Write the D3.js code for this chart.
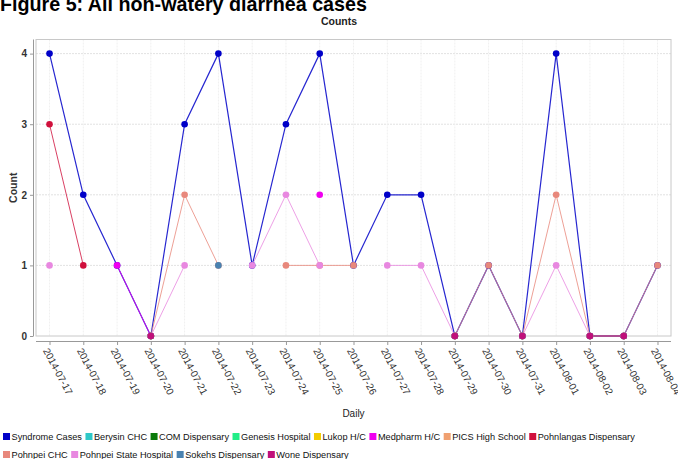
<!DOCTYPE html>
<html>
<head>
<meta charset="utf-8">
<script src="https://cdn.jsdelivr.net/npm/d3@7"></script>
<style>
  body { margin: 0; background: #fff; }
  svg { display: block; font-family: 'Liberation Sans', Arial, sans-serif; }
</style>
</head>
<body>
<svg id="chart" width="678" height="459"></svg>
<script>
const d3 = window.d3

const dates = ['2014-07-17', '2014-07-18', '2014-07-19', '2014-07-20', '2014-07-21', '2014-07-22',
  '2014-07-23', '2014-07-24', '2014-07-25', '2014-07-26', '2014-07-27', '2014-07-28', '2014-07-29',
  '2014-07-30', '2014-07-31', '2014-08-01', '2014-08-02', '2014-08-03', '2014-08-04']
const yTicks = [0, 1, 2, 3, 4]

const n = null
const syndromeCases = [4, 2, 1, 0, 3, 4, 1, 3, 4, 1, 2, 2, 0, 1, 0, 4, 0, 0, 1]
const berysin = [n, n, n, 0, n, n, n, n, n, n, n, n, 0, n, 0, n, 0, 0, n]
const com = [n, n, n, 0, n, n, n, n, n, n, n, n, 0, n, 0, n, 0, 0, n]
const genesis = [n, n, n, 0, n, n, n, n, n, n, n, n, 0, n, 0, n, 0, 0, n]
const lukop = [n, n, n, 0, n, n, n, n, n, n, n, n, 0, n, 0, n, 0, 0, n]
const medpharm = [n, n, 1, 0, n, n, n, n, 2, n, n, n, 0, n, 0, n, 0, 0, n]
const pics = [n, n, n, 0, n, n, n, n, n, n, n, n, 0, n, 0, n, 0, 0, n]
const pohnlangas = [3, 1, n, 0, n, n, n, n, n, n, n, n, 0, n, 0, n, 0, 0, n]
const pohnpeiChc = [n, n, n, 0, 2, 1, n, 1, 1, 1, n, n, 0, 1, 0, 2, 0, 0, 1]
const pohnpeiState = [1, n, n, 0, 1, n, 1, 2, 1, n, 1, 1, 0, n, 0, 1, 0, 0, n]
const sokehs = [n, n, n, 0, n, 1, n, n, n, n, n, n, 0, n, 0, n, 0, 0, n]
const wone = [n, n, n, 0, n, n, n, n, n, n, n, n, 0, n, 0, n, 0, 0, n]

const seriesNames = ['Syndrome Cases', 'Berysin CHC', 'COM Dispensary', 'Genesis Hospital', 'Lukop H/C',
  'Medpharm H/C', 'PICS High School', 'Pohnlangas Dispensary', 'Pohnpei CHC', 'Pohnpei State Hospital',
  'Sokehs Dispensary', 'Wone Dispensary']
const seriesValues = [syndromeCases, berysin, com, genesis, lukop, medpharm, pics, pohnlangas,
  pohnpeiChc, pohnpeiState, sokehs, wone]
const seriesColors = ['#0000c8', '#2ec8c8', '#0a7a0a', '#22ee88', '#f2cc00', '#f000f0',
  '#f0a070', '#d0103c', '#e8887c', '#e888e0', '#4a82b0', '#c0107a']

const series = seriesNames.map((name, i) => ({
  name,
  color: seriesColors[i],
  values: seriesValues[i].map((v, j) => ({date: dates[j], v}))
}))

const svg = d3.select('#chart')
const plot = {left: 36, right: 671, top: 39.5, bottom: 336}

const x = d3.scalePoint()
  .domain(dates)
  .range([plot.left, plot.right])
  .padding(0.4)

const y = d3.scaleLinear()
  .domain([0, 4.2])
  .range([plot.bottom, plot.top])

// titles
svg.append('text')
  .attr('x', 0).attr('y', 11)
  .style('font-size', '19.7px').style('font-weight', 'bold')
  .text('Figure 5: All non-watery diarrhea cases')

svg.append('text')
  .attr('x', 339).attr('y', 25)
  .attr('text-anchor', 'middle')
  .style('font-size', '10.5px').style('font-weight', 'bold').style('fill', '#222')
  .text('Counts')

// grid
svg.append('g').selectAll('line').data(yTicks.slice(1)).enter().append('line')
  .attr('x1', plot.left).attr('x2', plot.right)
  .attr('y1', d => y(d)).attr('y2', d => y(d))
  .style('stroke', '#e2e2e2').style('stroke-dasharray', '2,1')

svg.append('g').selectAll('line').data(dates).enter().append('line')
  .attr('x1', d => x(d)).attr('x2', d => x(d))
  .attr('y1', plot.top).attr('y2', plot.bottom)
  .style('stroke', '#f0f0f0').style('stroke-dasharray', '2,1')

// frame
svg.append('rect')
  .attr('x', plot.left).attr('y', plot.top)
  .attr('width', plot.right - plot.left).attr('height', plot.bottom - plot.top)
  .style('fill', 'none').style('stroke', '#c8c8c8')

// axes
const yAxis = svg.append('g')
  .attr('transform', 'translate(33, 0)')
  .call(d3.axisLeft(y).tickValues(yTicks).tickSize(3).tickPadding(3).tickFormat(d3.format('d')))
yAxis.select('.domain').attr('d', `M0.5,${plot.top}V${plot.bottom + 0.5}`).style('stroke', '#999')
yAxis.selectAll('.tick line').style('stroke', '#999')
yAxis.selectAll('.tick text')
  .style('font-size', '10px').style('font-weight', 'bold').style('fill', '#333')
  .style('font-family', "'Liberation Sans', Arial, sans-serif")

const xAxis = svg.append('g')
  .attr('transform', 'translate(0, 341)')
  .call(d3.axisBottom(x).tickSize(4).tickSizeOuter(0))
xAxis.select('.domain').attr('d', `M${plot.left},0.5H${plot.right}`).style('stroke', '#999')
xAxis.selectAll('.tick line').style('stroke', '#999')
xAxis.selectAll('.tick text')
  .attr('y', 0).attr('x', 0).attr('dy', '0.35em')
  .attr('text-anchor', 'start')
  .attr('transform', 'translate(-5, 6) rotate(62) translate(2, 0)')
  .style('font-size', '10px').style('fill', '#333')
  .style('font-family', "'Liberation Sans', Arial, sans-serif")

svg.append('text')
  .attr('x', (plot.left + plot.right) / 2).attr('y', 417)
  .attr('text-anchor', 'middle')
  .style('font-size', '10px').style('fill', '#222')
  .text('Daily')

svg.append('text')
  .attr('transform', `translate(17, ${(plot.top + plot.bottom) / 2}) rotate(-90)`)
  .attr('text-anchor', 'middle')
  .style('font-size', '10.5px').style('font-weight', 'bold').style('fill', '#333')
  .text('Count')

// lines then points
const line = d3.line()
  .defined(d => d.v !== null)
  .x(d => x(d.date))
  .y(d => y(d.v))

svg.append('g').selectAll('path').data(series).enter().append('path')
  .attr('d', d => line(d.values))
  .style('fill', 'none')
  .style('stroke', d => d.color)
  .style('stroke-width', (d, i) => i === 0 ? 1.2 : 1)
  .style('stroke-opacity', (d, i) => i === 0 ? 0.85 : 0.8)

series.forEach((s) => {
  svg.append('g').selectAll('circle').data(s.values.filter(d => d.v !== null)).enter().append('circle')
    .attr('cx', d => x(d.date))
    .attr('cy', d => y(d.v))
    .attr('r', 3.3)
    .style('fill', s.color)
})

// legend
const legend = svg.append('g').style('font-size', '9.2px')
let lx = 3
let ly = 440
series.forEach((s) => {
  const item = legend.append('g')
  item.append('rect')
    .attr('width', 7).attr('height', 7).attr('y', -7)
    .style('fill', s.color)
  const t = item.append('text')
    .attr('x', 8.5).attr('y', 0)
    .style('fill', '#111')
    .text(s.name)
  const w = 8.5 + t.node().getComputedTextLength() + 3.5
  if (lx + w > 640) {
    lx = 3
    ly += 18
  }
  item.attr('transform', `translate(${lx}, ${ly})`)
  lx += w
})
</script>
</body>
</html>
